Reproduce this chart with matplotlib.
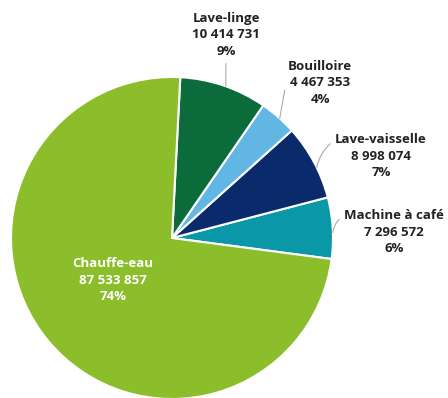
import numpy as np
import matplotlib.pyplot as plt

plt.rcParams['font.family'] = ['Open Sans', 'DejaVu Sans']

# Données
categories = ["Machine à café", "Lave-vaisselle", "Bouilloire", "Lave-linge", "Chauffe-eau"]
valeurs = [7296572, 8998074, 4467353, 10414731, 87533857]
pourcentages = ["6%", "7%", "4%", "9%", "74%"]
couleurs = ["#0a98a8", "#0b2a6b", "#62b6e4", "#0c6b3b", "#8cbd2b"]

# Positions des étiquettes (pixels de l'image d'origine) et des lignes de rappel
pos_etiquettes = [(394, 232), (381, 156), (320, 83), (226, 35), (113, 280)]
angle_rappel = [2, 26, 48, 70.5, None]
attache = [(0, 0.85), (0, 0.85), (0, 0.5), (0.5, 0), None]
connexion = ["arc3,rad=0.25", "arc3,rad=0.2",
             "angle,angleA=0,angleB=80,rad=0", "arc3,rad=0", None]

cx, cy, r = 172, 238, 161
W, H = 448, 398

fig = plt.figure(figsize=(W / 100, H / 100), dpi=100)
ax = fig.add_axes([0, 0, 1, 1])

wedges, _ = ax.pie(valeurs, colors=couleurs, startangle=-7.5, counterclock=True,
                   wedgeprops=dict(edgecolor="white", linewidth=1.5))

ax.set_xlim(-cx / r, (W - cx) / r)
ax.set_ylim(-(H - cy) / r, cy / r)
ax.set_aspect("auto")
ax.axis("off")

def en_donnees(p):
    return ((p[0] - cx) / r, (cy - p[1]) / r)

for i, w in enumerate(wedges):
    texte = f"{categories[i]}\n{valeurs[i]:,}".replace(",", " ") + f"\n{pourcentages[i]}"
    xt, yt = en_donnees(pos_etiquettes[i])
    if angle_rappel[i] is None:
        ax.text(xt, yt, texte, ha="center", va="center", color="white",
                fontsize=9.5, fontweight="bold", linespacing=1.35)
        continue
    ang = np.deg2rad(angle_rappel[i])
    ax.annotate(texte, xy=(np.cos(ang), np.sin(ang)), xytext=(xt, yt),
                ha="center", va="center", color="#222222",
                fontsize=9.5, fontweight="bold", linespacing=1.35,
                arrowprops=dict(arrowstyle="-", color="#aaaaaa", lw=0.8,
                                relpos=attache[i], shrinkA=2, shrinkB=0,
                                connectionstyle=connexion[i]))

fig.savefig("out.png", dpi=100)
